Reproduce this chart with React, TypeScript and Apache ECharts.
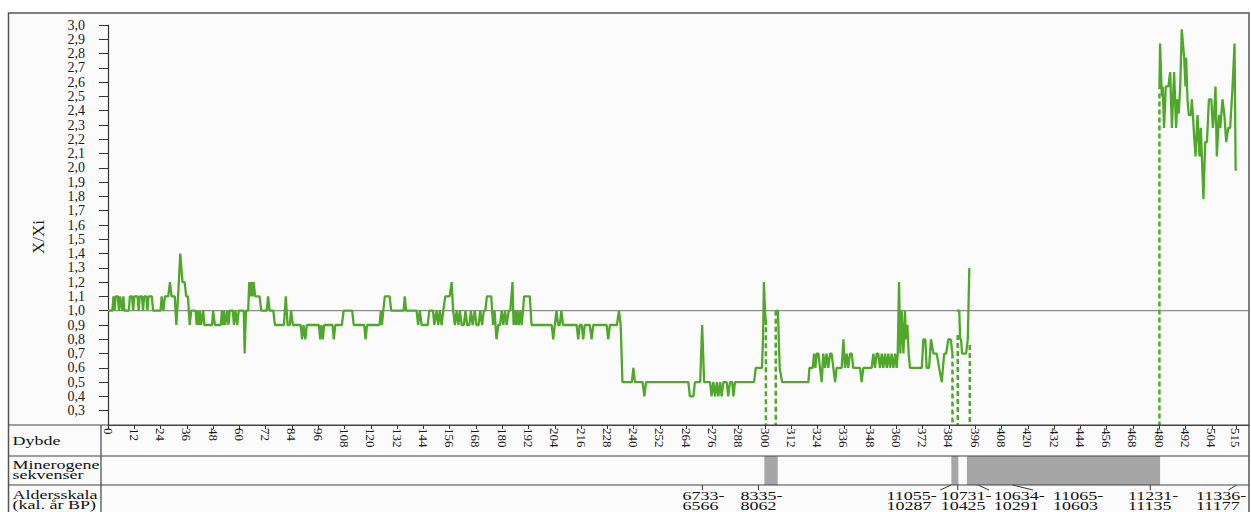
import React, { useEffect, useRef } from "react";
import * as echarts from "echarts";

const GREEN = "#50a82a";
const SERIF = "Liberation Serif";

const yTitle = "X/Xi";
const depthTicks = [0, 12, 24, 36, 48, 60, 72, 84, 96, 108, 120, 132, 144, 156, 168, 180, 192, 204, 216, 228, 240, 252, 264, 276, 288, 300, 312, 324, 336, 348, 360, 372, 384, 396, 408, 420, 432, 444, 456, 468, 480, 492, 504, 515];
const ratioTicks = [0.3, 0.4, 0.5, 0.6, 0.7, 0.8, 0.9, 1.0, 1.1, 1.2, 1.3, 1.4, 1.5, 1.6, 1.7, 1.8, 1.9, 2.0, 2.1, 2.2, 2.3, 2.4, 2.5, 2.6, 2.7, 2.8, 2.9, 3.0];

const referenceLine = [[0, 1.0], [521, 1.0]];

const segmentA = [
  [0, 1.0], [2, 1.0], [2.5, 1.1], [3, 1.0], [3.5, 1.1], [4.5, 1.1], [5, 1.0], [5.5, 1.1], [6.5, 1.0], [7, 1.1], [7.5, 1.0], [9.5, 1.0],
  [10, 1.1], [11, 1.1], [11.5, 1.0], [12, 1.1], [13.5, 1.1], [14, 1.0], [14.5, 1.1], [15.5, 1.1], [16, 1.0], [16.5, 1.1], [17.5, 1.1], [18, 1.0],
  [18.5, 1.1], [20, 1.1], [20.6, 1.0], [24, 1.0], [24.5, 1.1], [25.3, 1.0], [26, 1.1], [27.5, 1.1], [28.3, 1.2], [29, 1.1], [30.5, 1.1], [31.2, 0.9],
  [32, 1.1], [33, 1.4], [34, 1.2], [35, 1.2], [35.7, 1.1], [36.5, 1.1], [37.3, 0.9], [38, 1.0], [40, 1.0], [40.5, 0.9], [41, 1.0], [41.5, 0.9],
  [42, 1.0], [42.5, 0.9], [43.5, 1.0], [44, 0.9], [47.5, 0.9], [48, 1.0], [48.8, 0.9], [51.5, 0.9], [52, 1.0], [52.5, 0.9], [53, 1.0], [53.5, 0.9],
  [54.5, 1.0], [55, 0.9], [55.6, 1.0], [57, 1.0], [57.5, 0.9], [58.2, 1.0], [59, 0.9], [59.7, 1.0], [62, 1.0], [62.4, 0.7], [63, 1.0], [64, 1.0],
  [64.5, 1.2], [65, 1.1], [65.5, 1.2], [66, 1.1], [66.5, 1.2], [67.2, 1.1], [69.2, 1.1], [70, 1.0], [72.5, 1.0], [73.1, 1.1], [73.8, 1.0], [75.5, 1.0],
  [76.2, 0.9], [80.3, 0.9], [81.2, 1.1], [82, 0.9], [83, 0.9], [83.6, 1.0], [84.4, 0.9], [88, 0.9], [88.6, 0.8], [89.3, 0.9], [90.1, 0.8], [90.8, 0.9],
  [96.3, 0.9], [96.9, 0.8], [97.5, 0.9], [98.1, 0.8], [98.7, 0.9], [102.5, 0.9], [103.1, 0.8], [103.8, 0.9], [106.8, 0.9], [107.6, 1.0], [111.5, 1.0], [112.2, 0.9],
  [117, 0.9], [117.6, 0.8], [118.3, 0.9], [124, 0.9], [124.6, 1.0], [125.1, 0.9], [125.7, 1.0], [126.4, 1.1], [128.6, 1.1], [129.3, 1.0], [135, 1.0], [135.5, 1.1],
  [136.1, 1.0], [140.9, 1.0], [141.6, 0.9], [142.4, 1.0], [143.2, 0.9], [146, 0.9], [146.7, 1.0], [148.4, 1.0], [149, 0.9], [150, 1.0], [150.8, 0.9], [151.5, 1.0],
  [152.3, 0.9], [153.1, 1.0], [154, 1.1], [156, 1.1], [156.9, 1.2], [157.6, 1.0], [158.4, 0.9], [159.2, 1.0], [160, 0.9], [160.7, 1.0], [161.5, 0.9], [162.5, 0.9],
  [163.2, 1.0], [164, 0.9], [165, 0.9], [165.7, 1.0], [166.5, 0.9], [167.5, 1.0], [168.2, 0.9], [169.2, 0.9], [170, 1.0], [170.8, 0.9], [171.6, 1.0], [172.3, 1.0],
  [173, 1.1], [175, 1.1], [175.8, 0.9], [176.5, 1.0], [177.4, 0.8], [178.2, 0.9], [179, 0.9], [179.8, 1.0], [180.5, 0.9], [181.3, 1.0], [182, 0.9], [183, 1.0],
  [183.7, 1.0], [184.7, 1.2], [185.2, 0.9], [185.8, 1.0], [186.4, 0.9], [187, 1.0], [187.6, 0.9], [188.3, 1.0], [188.9, 0.9], [189.5, 1.0], [190, 1.1], [192.6, 1.1],
  [193.4, 0.9], [202.6, 0.9], [203.3, 0.8], [204, 0.9], [204.8, 1.0], [205.5, 0.9], [206.3, 0.9], [207, 1.0], [207.8, 0.9], [214, 0.9], [214.7, 0.8], [215.4, 0.9],
  [216.3, 0.9], [217, 0.8], [217.7, 0.9], [220, 0.9], [220.8, 0.8], [221.6, 0.9], [227.7, 0.9], [228.4, 0.8], [229.2, 0.9], [232.4, 0.9], [233.3, 1.0], [234.1, 0.9],
  [234.9, 0.5], [239.2, 0.5], [239.9, 0.6], [240.6, 0.5], [244.1, 0.5], [244.9, 0.4], [245.7, 0.5], [265, 0.5], [265.7, 0.4], [267.3, 0.4], [268, 0.5], [270.4, 0.5],
  [271.3, 0.9], [272.2, 0.5], [274.9, 0.5], [275.6, 0.4], [276.4, 0.5], [277.2, 0.4], [278, 0.5], [278.7, 0.4], [279.5, 0.5], [280.2, 0.4], [281, 0.5], [282.5, 0.5],
  [283.2, 0.4], [284, 0.5], [285, 0.5], [285.6, 0.4], [286.3, 0.5], [295, 0.5], [295.8, 0.6], [297.6, 0.6], [298.6, 0.6], [299.1, 0.8], [299.5, 1.2], [300, 1.0], [300.4, 0.9]
];

const segmentB = [
  [305.2, 1.0], [305.9, 1.0], [306.7, 0.6], [307.8, 0.5], [319.8, 0.5], [320.3, 0.6], [321.8, 0.6], [322.4, 0.7], [323, 0.6], [323.6, 0.7], [324.4, 0.7], [325.1, 0.6],
  [325.9, 0.5], [326.6, 0.7], [327.4, 0.6], [328.1, 0.7], [328.9, 0.6], [329.7, 0.7], [330.4, 0.7], [331.2, 0.6], [332, 0.5], [332.7, 0.6], [335, 0.6], [335.8, 0.8],
  [336.5, 0.6], [337.3, 0.7], [338, 0.6], [338.8, 0.7], [339.6, 0.7], [340.3, 0.6], [343.4, 0.6], [344.1, 0.5], [344.9, 0.6], [348.7, 0.6], [349.5, 0.7], [350.2, 0.6],
  [351, 0.7], [351.7, 0.7], [352.5, 0.6], [353.3, 0.7], [354, 0.6], [354.8, 0.7], [355.6, 0.6], [356.3, 0.7], [357.1, 0.6], [357.8, 0.7], [358.6, 0.6], [359.4, 0.7],
  [360.1, 0.6], [360.6, 0.7], [361.2, 1.2], [361.8, 0.7], [362.4, 1.0], [363.2, 0.7], [363.9, 1.0], [364.4, 0.8], [365, 0.9], [365.6, 0.7], [366.2, 0.6], [371.6, 0.6],
  [372.3, 0.8], [373.2, 0.8], [373.8, 0.6], [374.9, 0.6], [375.8, 0.8], [376.9, 0.7], [378.4, 0.7], [379.5, 0.6], [380.7, 0.5], [381.8, 0.7], [382.7, 0.7], [383.7, 0.8],
  [384.8, 0.8], [385.6, 0.7]
];

const segmentC = [
  [387.5, 1.0], [388.7, 1.0], [389.1, 0.8], [389.5, 0.8], [390, 0.7], [391.8, 0.7], [392.6, 0.8], [393.3, 1.3]
];

const segmentD = [
  [480.1, 2.55], [480.4, 2.87], [481.2, 2.5], [481.6, 2.57], [482.2, 2.28], [483, 2.57], [484.2, 2.57], [485, 2.67], [485.8, 2.28], [486.8, 2.67], [487.7, 2.28], [488.3, 2.48],
  [488.9, 2.38], [489.6, 2.57], [490.3, 2.97], [491.4, 2.77], [492, 2.57], [492.3, 2.77], [492.9, 2.48], [493.5, 2.37], [494.5, 2.37], [494.9, 2.48], [495.4, 2.37], [496.1, 2.18],
  [496.6, 2.08], [497.5, 2.37], [498.4, 2.08], [499, 2.28], [500.2, 1.78], [501, 2.18], [501.8, 2.18], [502.7, 2.48], [503.8, 2.48], [504.5, 2.28], [505.1, 2.38], [505.7, 2.57],
  [506.3, 2.08], [507.3, 2.37], [507.9, 2.28], [508.9, 2.48], [509.7, 2.38], [510.6, 2.18], [511.5, 2.28], [512.4, 2.28], [513.5, 2.57], [514.4, 2.87], [514.9, 1.98]
];

const dashDepths = [300.4, 304.9, 385.6, 388.0, 393.5, 480.1];
const dashTops = [0.94, 1.0, 0.7, 0.83, 0.76, 2.52];
const axisFloor = 0.2;

const minerogeneBands = [[299.7, 305.8], [385.1, 388.3], [392.2, 480.4]];

const ageTop = ["6733-", "8335-", "11055-", "10731-", "10634-", "11065-", "11231-", "11336-"];
const ageBottom = ["6566", "8062", "10287", "10425", "10291", "10603", "11135", "11177"];
const ageLeaderTop = [271.4, 297, 385, 388, 397.2, 413.1, 475.9, 515.4];
const ageLeaderBottom = [271.4, 297, 380, 388, 402.3, 422.4, 475.9, 511.6];
const ageLabelStart = [262.3, 288.8, 355.5, 380.2, 404.5, 431.5, 465.7, 496.8];

export default function App() {
  const ref = useRef<HTMLDivElement>(null);

  useEffect(() => {
    document.body.style.margin = "0";
    const chart = echarts.init(ref.current as HTMLDivElement, null, { renderer: "svg" });

    const lineSeries = [segmentA, segmentB, segmentC, segmentD].map((seg) => ({
      type: "line",
      xAxisIndex: 0,
      yAxisIndex: 0,
      data: seg,
      symbol: "none",
      z: 4,
      silent: true,
      lineStyle: { color: GREEN, width: 2.3 },
    }));

    const dashSeries = dashDepths.map((d, i) => ({
      type: "line",
      xAxisIndex: 0,
      yAxisIndex: 0,
      data: [[d, dashTops[i]], [d, axisFloor]],
      symbol: "none",
      z: 3,
      silent: true,
      lineStyle: { color: GREEN, width: 2.5, type: [5, 3] },
    }));

    const lineStroke = "#444";

    chart.setOption({
      animation: false,
      backgroundColor: "#ffffff",
      grid: [
        { left: 108, right: 2, top: 25, bottom: 87 },
        { left: 108, right: 2, top: 456, height: 29 },
        { left: 108, right: 2, top: 485, height: 27 },
      ],
      xAxis: [
        {
          gridIndex: 0,
          type: "value",
          min: 0,
          max: 521,
          axisLine: { show: true, onZero: false, lineStyle: { color: lineStroke, width: 1.2 } },
          axisTick: { show: true, customValues: depthTicks, length: 4, inside: false, lineStyle: { color: "#333", width: 1 } },
          axisLabel: {
            customValues: depthTicks,
            rotate: -90,
            margin: 3,
            fontSize: 13,
            fontFamily: SERIF,
            color: "#1a1a1a",
          },
          splitLine: { show: false },
        },
        { gridIndex: 1, type: "value", min: 0, max: 521, show: false },
        { gridIndex: 2, type: "value", min: 0, max: 521, show: false },
      ],
      yAxis: [
        {
          gridIndex: 0,
          type: "value",
          min: axisFloor,
          max: 3.0,
          axisLine: { show: true, lineStyle: { color: "#333", width: 1.2 } },
          axisTick: { show: true, customValues: ratioTicks, length: 9, inside: false, lineStyle: { color: "#333", width: 1 } },
          axisLabel: {
            customValues: ratioTicks,
            margin: 23,
            fontSize: 14,
            fontFamily: SERIF,
            color: "#1a1a1a",
            formatter: (v: number) => v.toFixed(1).replace(".", ","),
          },
          splitLine: { show: false },
        },
        { gridIndex: 1, type: "value", min: 0, max: 1, show: false },
        { gridIndex: 2, type: "value", min: 0, max: 1, show: false },
      ],
      graphic: [
        {
          type: "rect",
          z: -10,
          silent: true,
          shape: { x: 8.5, y: 13, width: 1240.5, height: 520 },
          style: { fill: "#fbfbfb", stroke: "#555", lineWidth: 1.5 },
        },
        {
          type: "text",
          z: 5,
          x: 38,
          y: 237,
          rotation: Math.PI / 2,
          style: { text: yTitle, fontSize: 17, fontFamily: SERIF, fill: "#1a1a1a", align: "center", verticalAlign: "middle" },
        },
        { type: "line", z: 5, silent: true, shape: { x1: 8.5, y1: 425, x2: 1249, y2: 425 }, style: { stroke: lineStroke, lineWidth: 1.2 } },
        { type: "line", z: 5, silent: true, shape: { x1: 8.5, y1: 456, x2: 1249, y2: 456 }, style: { stroke: lineStroke, lineWidth: 1.2 } },
        { type: "line", z: 5, silent: true, shape: { x1: 8.5, y1: 485, x2: 1249, y2: 485 }, style: { stroke: lineStroke, lineWidth: 1.2 } },
        { type: "line", z: 5, silent: true, shape: { x1: 101, y1: 425, x2: 101, y2: 512 }, style: { stroke: lineStroke, lineWidth: 1.2 } },
        { type: "text", z: 5, x: 12.5, y: 441, scaleX: 1.5, style: { text: "Dybde", fontSize: 12, fontFamily: SERIF, fill: "#111", verticalAlign: "middle" } },
        { type: "text", z: 5, x: 12.5, y: 464.5, scaleX: 1.5, style: { text: "Minerogene", fontSize: 12, fontFamily: SERIF, fill: "#111", verticalAlign: "middle" } },
        { type: "text", z: 5, x: 12.5, y: 474.5, scaleX: 1.5, style: { text: "sekvenser", fontSize: 12, fontFamily: SERIF, fill: "#111", verticalAlign: "middle" } },
        { type: "text", z: 5, x: 12.5, y: 494.5, scaleX: 1.5, style: { text: "Aldersskala", fontSize: 12, fontFamily: SERIF, fill: "#111", verticalAlign: "middle" } },
        { type: "text", z: 5, x: 12.5, y: 504.5, scaleX: 1.5, style: { text: "(kal. år BP)", fontSize: 12, fontFamily: SERIF, fill: "#111", verticalAlign: "middle" } },
      ],
      series: [
        {
          type: "line",
          xAxisIndex: 0,
          yAxisIndex: 0,
          data: referenceLine,
          symbol: "none",
          z: 1,
          silent: true,
          lineStyle: { color: "#707070", width: 1 },
        },
        ...lineSeries,
        ...dashSeries,
        {
          type: "custom",
          xAxisIndex: 1,
          yAxisIndex: 1,
          silent: true,
          data: minerogeneBands,
          encode: { x: [0, 1] },
          renderItem: (_params: any, api: any) => {
            const a = api.coord([api.value(0), 1]);
            const b = api.coord([api.value(1), 0]);
            return {
              type: "rect",
              shape: { x: a[0], y: a[1], width: b[0] - a[0], height: b[1] - a[1] },
              style: { fill: "#a6a6a6" },
            };
          },
        },
        {
          type: "custom",
          xAxisIndex: 2,
          yAxisIndex: 2,
          silent: true,
          clip: false,
          data: ageTop.map((_, i) => [ageLeaderTop[i], ageLeaderBottom[i], ageLabelStart[i], i]),
          encode: { x: [0, 1, 2] },
          renderItem: (_params: any, api: any) => {
            const idx = api.value(3);
            const t = api.coord([api.value(0), 1]);
            const b = api.coord([api.value(1), 1]);
            const s = api.coord([api.value(2), 1]);
            const top = t[1];
            return {
              type: "group",
              children: [
                {
                  type: "line",
                  shape: { x1: t[0], y1: top, x2: b[0], y2: top + 5 },
                  style: { stroke: "#333", lineWidth: 1 },
                },
                {
                  type: "text",
                  x: s[0],
                  y: top + 10.5,
                  scaleX: 1.5,
                  style: { text: ageTop[idx], fontSize: 12, fontFamily: SERIF, fill: "#111", verticalAlign: "middle", align: "left" },
                },
                {
                  type: "text",
                  x: s[0],
                  y: top + 20.5,
                  scaleX: 1.5,
                  style: { text: ageBottom[idx], fontSize: 12, fontFamily: SERIF, fill: "#111", verticalAlign: "middle", align: "left" },
                },
              ],
            };
          },
        },
      ],
    });

    return () => chart.dispose();
  }, []);

  return <div ref={ref} style={{ position: "absolute", left: 0, top: 0, width: 1251, height: 512 }} />;
}
